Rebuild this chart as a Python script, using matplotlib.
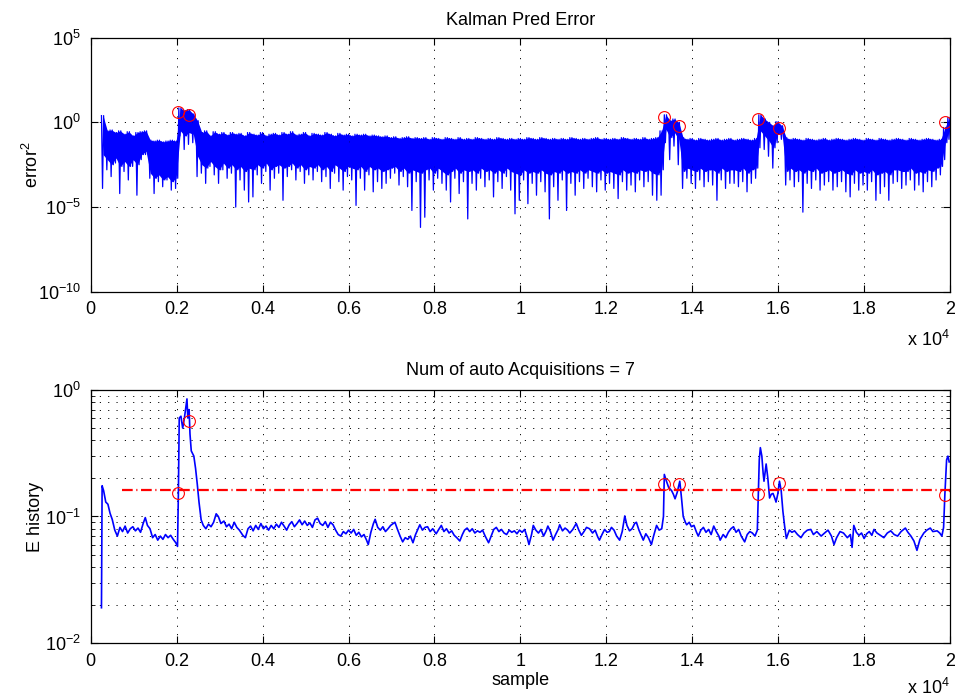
import numpy as np
import matplotlib
matplotlib.use("Agg")
import matplotlib.pyplot as plt
from matplotlib.ticker import FixedLocator, NullLocator, LogLocator, FuncFormatter

plt.rcParams['font.family'] = ['Liberation Sans', 'DejaVu Sans']
plt.rcParams['mathtext.default'] = 'regular'
plt.rcParams['font.size'] = 13
plt.rcParams['lines.scale_dashes'] = False

# ---- top: squared prediction error, per 100-sample bin ----
# log10(error^2): bin peak, deepest spike, lower edge of the dense band
err_x = np.arange(250, 19951, 100)
err_hi = [0.4, -0.5, -0.45, -0.6, -0.5, -0.7, -0.55, -0.8, -0.6, -0.55,
          -0.5, -1.05, -1.1, -1.05, -1.15, -1.1, -1.05, -1.1, 0.85, 0.7,
          0.75, 0.5, 0.1, -0.6, -0.5, -0.8, -0.55, -0.7, -0.6, -0.75,
          -0.6, -0.7, -0.65, -0.8, -0.6, -0.7, -0.75, -0.6, -0.8, -0.7,
          -0.65, -0.75, -0.6, -0.7, -0.55, -0.75, -0.7, -0.6, -0.8, -0.65,
          -0.7, -0.75, -0.6, -0.7, -0.8, -0.65, -0.75, -0.7, -0.8, -0.7,
          -0.75, -0.7, -0.8, -0.75, -0.8, -0.85, -0.8, -0.9, -0.85, -0.95,
          -0.9, -0.85, -0.95, -0.9, -0.95, -0.9, -1.0, -0.9, -0.95, -1.0,
          -0.9, -0.95, -1.0, -0.9, -1.0, -0.95, -1.0, -0.9, -0.95, -1.0,
          -0.95, -1.0, -0.9, -0.95, -1.0, -0.95, -1.0, -0.95, -1.0, -0.9,
          -0.95, -1.0, -0.9, -0.95, -1.0, -0.95, -1.0, -0.95, -1.0, -0.9,
          -0.95, -1.0, -0.95, -1.0, -0.95, -0.9, -1.0, -0.95, -1.0, -0.95,
          -1.0, -0.9, -0.95, -1.0, -0.95, -1.0, -0.9, -1.0, -0.95, -0.9,
          -0.5, 0.45, 0.1, 0.2, 0.0, -0.9, -1.0, -0.95, -1.05, -0.95,
          -1.0, -1.05, -1.0, -0.95, -1.05, -1.0, -0.95, -1.05, -1.0, -0.95,
          -1.0, -1.05, -0.95, 0.45, 0.2, 0.0, -0.2, 0.05, -0.2, -0.9,
          -1.0, -0.95, -1.0, -1.05, -0.95, -1.0, -1.05, -1.0, -0.95, -1.05,
          -1.0, -0.95, -1.0, -1.05, -1.0, -0.95, -1.0, -1.05, -0.95, -1.0,
          -1.05, -0.95, -1.0, -1.05, -1.0, -0.95, -1.0, -1.05, -0.95, -1.0,
          -1.05, -1.0, -0.95, -1.0, -1.05, -1.0, -0.3, 0.3]
err_lo = [-3.9, -2.8, -3.2, -2.4, -4.2, -2.9, -3.4, -2.6, -4.3, -2.2,
          -1.9, -3.3, -4.2, -3.5, -3.8, -3.4, -4.0, -3.9, -0.8, -1.6,
          -1.3, -1.2, -3.2, -3.0, -3.6, -2.6, -3.1, -3.6, -2.8, -3.3,
          -3.0, -5.0, -3.4, -4.0, -4.7, -4.4, -3.1, -3.6, -2.9, -4.0,
          -3.3, -3.0, -4.6, -3.2, -2.8, -3.4, -2.9, -3.6, -3.1, -3.4,
          -2.9, -3.5, -3.2, -3.9, -3.0, -3.5, -4.0, -3.2, -3.4, -4.9,
          -3.3, -4.0, -3.1, -4.1, -3.5, -3.9, -3.6, -3.3, -3.0, -3.7,
          -3.2, -3.8, -5.2, -3.5, -6.2, -5.6, -3.4, -4.0, -3.3, -3.6,
          -4.0, -4.7, -3.3, -4.2, -3.5, -5.7, -3.6, -4.0, -3.3, -3.8,
          -3.4, -4.4, -3.5, -3.9, -3.2, -4.0, -5.4, -4.6, -3.4, -4.8,
          -3.6, -4.3, -3.5, -4.1, -5.7, -3.8, -4.6, -3.4, -5.2, -3.6,
          -4.3, -3.5, -3.9, -3.3, -3.8, -4.1, -3.4, -4.0, -3.6, -3.9,
          -4.5, -3.5, -4.0, -3.7, -4.1, -3.4, -3.8, -3.5, -4.3, -4.6,
          -4.3, -1.2, -2.2, -1.4, -2.5, -3.9, -3.3, -3.6, -3.9, -3.4,
          -3.8, -3.5, -3.7, -4.6, -3.4, -3.9, -3.6, -3.6, -3.8, -3.5,
          -4.1, -3.6, -3.3, -1.5, -1.6, -2.0, -2.7, -1.2, -1.0, -3.7,
          -3.4, -3.8, -3.5, -5.3, -3.6, -3.9, -3.4, -4.0, -3.7, -3.5,
          -4.0, -3.8, -3.5, -4.1, -4.4, -3.6, -4.0, -3.7, -4.0, -3.5,
          -4.6, -4.2, -3.8, -4.6, -3.6, -3.5, -3.9, -3.7, -3.4, -4.0,
          -3.7, -4.1, -3.5, -3.8, -3.4, -3.1, -2.2, -1.0]
err_core = [-1.9, -2.2, -2.5, -2.1, -2.6, -2.3, -2.6, -2.2, -2.5, -1.9,
            -1.7, -3.0, -3.3, -3.1, -3.4, -3.2, -3.5, -3.3, -0.5, -0.8,
            -0.6, -0.7, -2.0, -2.5, -2.7, -2.3, -2.6, -2.8, -2.4, -2.7,
            -2.5, -2.8, -2.6, -2.9, -2.7, -2.8, -2.5, -2.7, -2.4, -2.8,
            -2.6, -2.5, -2.7, -2.6, -2.4, -2.7, -2.5, -2.8, -2.6, -2.7,
            -2.5, -2.8, -2.6, -2.9, -2.5, -2.7, -2.9, -2.6, -2.7, -2.8,
            -2.6, -2.9, -2.6, -2.8, -2.7, -2.9, -2.8, -2.7, -2.6, -2.9,
            -2.7, -3.0, -2.8, -2.9, -3.0, -2.8, -2.7, -3.0, -2.7, -2.9,
            -3.1, -2.9, -2.7, -3.0, -2.8, -2.9, -2.8, -3.0, -2.7, -2.9,
            -2.8, -3.0, -2.8, -3.0, -2.7, -2.9, -3.0, -3.1, -2.8, -3.0,
            -2.9, -3.0, -2.8, -3.0, -3.1, -2.9, -3.0, -2.8, -3.0, -2.9,
            -3.0, -2.8, -3.0, -2.8, -2.9, -3.0, -2.8, -3.0, -2.9, -3.0,
            -3.1, -2.8, -3.0, -2.9, -3.0, -2.8, -2.9, -2.8, -3.0, -3.1,
            -2.8, -0.4, -0.9, -0.6, -1.0, -2.9, -2.7, -2.8, -2.9, -2.7,
            -2.9, -2.8, -2.8, -3.0, -2.7, -2.9, -2.8, -2.8, -2.9, -2.7,
            -3.0, -2.8, -2.7, -0.5, -0.8, -1.1, -1.5, -0.7, -0.6, -2.9,
            -2.7, -2.9, -2.8, -3.0, -2.8, -2.9, -2.7, -3.0, -2.9, -2.8,
            -3.0, -2.9, -2.8, -3.0, -3.1, -2.8, -3.0, -2.9, -3.0, -2.8,
            -3.1, -3.0, -2.9, -3.1, -2.8, -2.8, -2.9, -2.9, -2.7, -3.0,
            -2.9, -3.0, -2.8, -2.9, -2.7, -2.6, -1.2, -0.4]

# ---- bottom: E history ----
e_x = [250, 265, 300, 350, 400, 450, 500, 560, 620, 680, 740, 800, 860, 920, 980,
       1040, 1100, 1160, 1220, 1270, 1320, 1380, 1440, 1500, 1560, 1620, 1680, 1740,
       1800, 1860, 1920, 1980, 2020, 2040, 2060, 2100, 2140, 2180, 2220, 2240, 2260,
       2290, 2310, 2340, 2400, 2440, 2480, 2520, 2570, 2620, 2680, 2740, 2800, 2860,
       2920, 2970, 3030, 3100, 3160, 3220, 3280, 3340, 3400, 3460, 3540, 3600, 3660,
       3720, 3780, 3840, 3900, 3960, 4020, 4080, 4140, 4200, 4260, 4320, 4380, 4440,
       4500, 4560, 4620, 4680, 4740, 4800, 4860, 4920, 4980, 5040, 5100, 5160, 5220,
       5280, 5340, 5400, 5460, 5520, 5580, 5640, 5700, 5760, 5820, 5880, 5940, 6000,
       6060, 6120, 6180, 6240, 6300, 6360, 6420, 6460, 6520, 6580, 6620, 6680, 6740,
       6800, 6860, 6920, 6980, 7040, 7080, 7140, 7200, 7260, 7320, 7380, 7440, 7500,
       7560, 7620, 7660, 7720, 7780, 7840, 7900, 7960, 8040, 8100, 8160, 8220, 8280,
       8340, 8400, 8460, 8520, 8590, 8650, 8700, 8760, 8820, 8880, 8940, 9000, 9060,
       9120, 9180, 9260, 9320, 9380, 9440, 9500, 9560, 9620, 9680, 9740, 9800, 9860,
       9920, 9980, 10040, 10100, 10160, 10200, 10260, 10300, 10360, 10420, 10480,
       10540, 10600, 10640, 10700, 10760, 10820, 10880, 10915, 10980, 11040, 11100,
       11150, 11220, 11300, 11360, 11420, 11480, 11540, 11610, 11680, 11740, 11800,
       11840, 11900, 11960, 12020, 12070, 12120, 12180, 12240, 12310, 12370, 12430,
       12480, 12540, 12600, 12660, 12700, 12760, 12820, 12860, 12920, 12980, 13050,
       13100, 13170, 13230, 13290, 13330, 13350, 13400, 13450, 13520, 13560, 13600,
       13650, 13710, 13750, 13790, 13840, 13870, 13930, 13980, 14040, 14100, 14140,
       14200, 14260, 14320, 14380, 14440, 14500, 14560, 14620, 14650, 14720, 14780,
       14840, 14900, 14960, 15020, 15080, 15140, 15220, 15280, 15340, 15400, 15460,
       15515, 15540, 15560, 15585, 15620, 15650, 15670, 15720, 15760, 15800, 15840,
       15880, 15920, 15950, 15990, 16030, 16070, 16110, 16150, 16190, 16260, 16320,
       16380, 16450, 16530, 16600, 16680, 16760, 16820, 16900, 17000, 17080, 17160,
       17240, 17300, 17360, 17440, 17520, 17610, 17680, 17720, 17760, 17820, 17880,
       17940, 18000, 18060, 18120, 18180, 18230, 18300, 18380, 18460, 18540, 18620,
       18700, 18780, 18860, 18960, 19020, 19090, 19160, 19230, 19300, 19390, 19460,
       19540, 19600, 19700, 19760, 19810, 19850, 19880, 19920, 19950, 19980]
e_val = [0.019, 0.175, 0.16, 0.13, 0.125, 0.106, 0.095, 0.078, 0.07, 0.082, 0.076,
         0.084, 0.074, 0.08, 0.083, 0.077, 0.081, 0.075, 0.088, 0.098, 0.085, 0.08,
         0.068, 0.072, 0.065, 0.07, 0.066, 0.072, 0.068, 0.071, 0.066, 0.062, 0.058,
         0.15, 0.6, 0.62, 0.5, 0.6, 0.75, 0.85, 0.6, 0.7, 0.45, 0.33, 0.3, 0.24,
         0.18, 0.13, 0.094, 0.085, 0.08, 0.087, 0.083, 0.09, 0.105, 0.1, 0.088,
         0.092, 0.083, 0.087, 0.08, 0.09, 0.082, 0.078, 0.071, 0.068, 0.08, 0.084,
         0.077, 0.085, 0.079, 0.088, 0.08, 0.084, 0.078, 0.085, 0.08, 0.087, 0.082,
         0.09, 0.084, 0.078, 0.086, 0.091, 0.083, 0.088, 0.094, 0.086, 0.092, 0.085,
         0.089, 0.082, 0.094, 0.097, 0.088, 0.085, 0.091, 0.082, 0.09, 0.086, 0.078,
         0.072, 0.07, 0.076, 0.073, 0.078, 0.074, 0.079, 0.071, 0.075, 0.069, 0.072,
         0.065, 0.06, 0.075, 0.088, 0.095, 0.082, 0.078, 0.083, 0.076, 0.08, 0.085,
         0.088, 0.09, 0.079, 0.07, 0.063, 0.068, 0.066, 0.07, 0.062, 0.072, 0.08,
         0.086, 0.078, 0.082, 0.083, 0.076, 0.08, 0.073, 0.079, 0.085, 0.076, 0.08,
         0.074, 0.077, 0.071, 0.068, 0.064, 0.072, 0.078, 0.081, 0.076, 0.08, 0.074,
         0.077, 0.075, 0.078, 0.07, 0.062, 0.07, 0.079, 0.082, 0.076, 0.079, 0.074,
         0.072, 0.078, 0.075, 0.077, 0.073, 0.078, 0.075, 0.079, 0.068, 0.06, 0.072,
         0.085, 0.078, 0.074, 0.079, 0.07, 0.077, 0.084, 0.076, 0.065, 0.072, 0.079,
         0.086, 0.077, 0.081, 0.078, 0.074, 0.079, 0.088, 0.078, 0.071, 0.076, 0.082,
         0.08, 0.074, 0.078, 0.069, 0.065, 0.072, 0.079, 0.075, 0.076, 0.082, 0.078,
         0.07, 0.065, 0.076, 0.101, 0.085, 0.077, 0.08, 0.088, 0.09, 0.078, 0.07,
         0.065, 0.073, 0.068, 0.06, 0.07, 0.085, 0.078, 0.08, 0.1, 0.215, 0.19, 0.17,
         0.16, 0.15, 0.138, 0.155, 0.19, 0.14, 0.1, 0.09, 0.086, 0.09, 0.083, 0.085,
         0.075, 0.07, 0.078, 0.082, 0.075, 0.079, 0.072, 0.084, 0.076, 0.07, 0.065,
         0.072, 0.068, 0.075, 0.08, 0.083, 0.075, 0.079, 0.07, 0.063, 0.072, 0.076,
         0.074, 0.07, 0.078, 0.16, 0.28, 0.35, 0.3, 0.22, 0.19, 0.26, 0.2, 0.14,
         0.15, 0.152, 0.14, 0.13, 0.15, 0.19, 0.16, 0.11, 0.084, 0.067, 0.078, 0.075,
         0.077, 0.072, 0.068, 0.074, 0.078, 0.079, 0.072, 0.076, 0.07, 0.074, 0.078,
         0.07, 0.06, 0.068, 0.076, 0.074, 0.068, 0.072, 0.057, 0.085, 0.075, 0.071,
         0.074, 0.067, 0.073, 0.076, 0.071, 0.079, 0.074, 0.071, 0.068, 0.074, 0.077,
         0.072, 0.07, 0.076, 0.081, 0.075, 0.07, 0.064, 0.054, 0.066, 0.074, 0.078,
         0.081, 0.076, 0.077, 0.074, 0.07, 0.082, 0.15, 0.28, 0.3, 0.27]

# auto acquisitions (red circles)
acq_x = [2040, 2290, 13340, 13700, 15540, 16030, 19880]
acq_err = [3.9, 2.8, 2.0, 0.64, 1.6, 0.47, 1.1]
acq_e = [0.152, 0.57, 0.18, 0.18, 0.151, 0.183, 0.149]
thresh = 0.163
thresh_x = [720, 20000]

xticks = np.arange(0, 20001, 2000)


def matlab_axes(ax, off):
    ax.tick_params(direction='in', top=True, right=True, length=5, width=0.8,
                   pad=7, labelsize=13)
    ax.tick_params(which='minor', direction='in', top=True, right=True, length=3, width=0.6)
    for s in ax.spines.values():
        s.set_linewidth(0.9)
    ax.set_xlim(0, 20000)
    ax.xaxis.set_major_locator(FixedLocator(xticks))
    ax.xaxis.set_major_formatter(FuncFormatter(lambda v, p: '%g' % (v / 1e4)))
    ax.xaxis.set_minor_locator(NullLocator())
    ax.text(1.0, off, r'x 10$^{4}$', transform=ax.transAxes,
            ha='right', va='center', fontsize=13)


fig = plt.figure(figsize=(9.55, 6.98), dpi=100)
ax1 = fig.add_axes([0.095, 0.582, 0.8998, 0.364])
ax2 = fig.add_axes([0.095, 0.0788, 0.8998, 0.3625])

grid_kw = dict(color='k', linestyle=(0, (0.8, 5.2)), linewidth=0.7)

# top plot: dense band filled, then each bin drawn as peak -> spike -> peak -> band edge
ax1.fill_between(err_x + 37, 10.0 ** np.array(err_core), 10.0 ** np.array(err_hi),
                 color='#0000ff', linewidth=0)
n = len(err_x)
xs = np.empty(4 * n)
ys = np.empty(4 * n)
for k, dx in enumerate([0, 25, 50, 75]):
    xs[k::4] = err_x + dx
ys[0::4] = 10.0 ** np.array(err_hi)
ys[1::4] = 10.0 ** np.array(err_lo)
ys[2::4] = 10.0 ** np.array(err_hi)
ys[3::4] = 10.0 ** np.array(err_core)
ax1.semilogy(xs, ys, color='#0000ff', linewidth=0.9)
ax1.plot(acq_x, acq_err, 'o', mfc='none', mec='#ff0000', ms=8.5, mew=0.8)
ax1.set_ylim(1e-10, 1e5)
ax1.yaxis.set_major_locator(FixedLocator([1e-10, 1e-5, 1e0, 1e5]))
ax1.yaxis.set_minor_locator(NullLocator())
matlab_axes(ax1, -0.19)
ax1.grid(True, which='major', **grid_kw)
ax1.set_title('Kalman Pred Error', fontsize=13, pad=9)
ax1.set_ylabel('error$^2$', fontsize=13, labelpad=-3)

# bottom plot
ax2.semilogy(e_x, e_val, color='#0000ff', linewidth=1.2)
ax2.plot(thresh_x, [thresh, thresh], color='#ff0000', linewidth=1.6,
         linestyle=(0, (7.7, 2.6, 0.8, 2.6)))
ax2.plot(acq_x, acq_e, 'o', mfc='none', mec='#ff0000', ms=8.5, mew=0.8)
ax2.set_ylim(1e-2, 1e0)
ax2.yaxis.set_major_locator(FixedLocator([1e-2, 1e-1, 1e0]))
ax2.yaxis.set_minor_locator(LogLocator(base=10, subs=np.arange(2, 10)))
matlab_axes(ax2, -0.178)
ax2.grid(True, which='both', axis='y', **grid_kw)
ax2.grid(True, which='major', axis='x', **grid_kw)
ax2.set_title('Num of auto Acquisitions = 7', fontsize=13, pad=11)
ax2.set_ylabel('E history', fontsize=13, labelpad=1)
ax2.set_xlabel('sample', fontsize=13, labelpad=2)

fig.savefig('out.png', dpi=100)
